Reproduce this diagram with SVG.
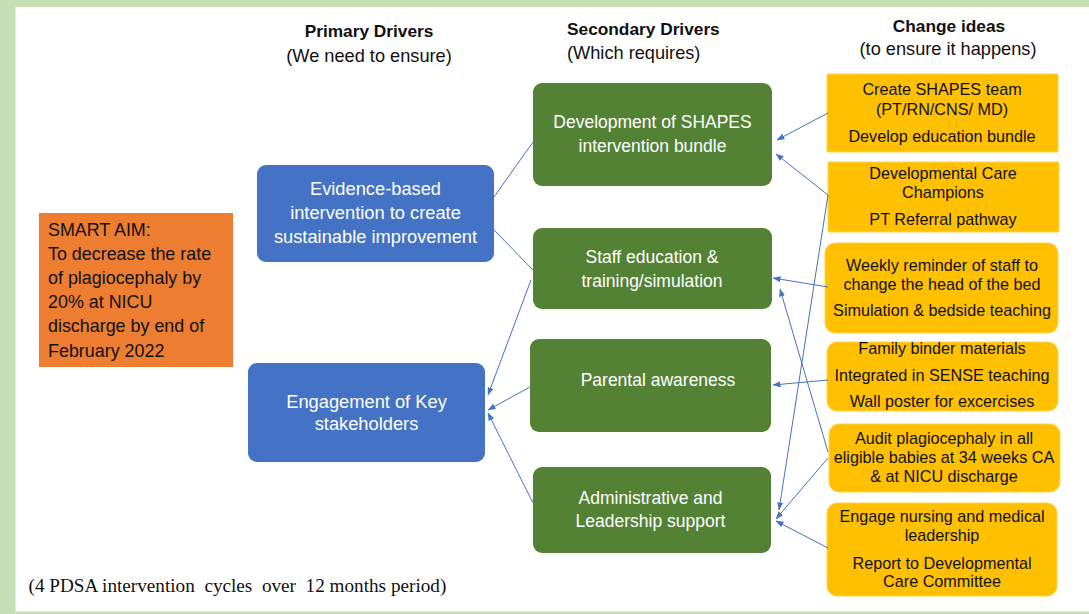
<svg xmlns="http://www.w3.org/2000/svg" width="1089" height="614" viewBox="0 0 1089 614">
<style>
.hdr{font-family:"Liberation Sans",Arial,sans-serif;font-size:17.3px;font-weight:bold;fill:#111}
.sub{font-family:"Liberation Sans",Arial,sans-serif;font-size:18.2px;fill:#111}
.wt{font-family:"Liberation Sans",Arial,sans-serif;fill:#fff;text-anchor:middle}
.bt{font-size:18.3px}
.gt{font-size:17.5px}
.yt{font-family:"Liberation Sans",Arial,sans-serif;font-size:16.2px;fill:#111;text-anchor:middle}
.ot{font-family:"Liberation Sans",Arial,sans-serif;font-size:17.9px;fill:#111}
.blue{fill:#4472C4}
.green{fill:#548235}
.yel{fill:#FFC000;stroke:#FFD24D;stroke-width:1}
.con line{stroke:#4472C4;stroke-width:1}
.arr{marker-end:url(#ah)}
</style>
<defs>
<marker id="ah" markerUnits="userSpaceOnUse" markerWidth="8" markerHeight="7" refX="7.5" refY="3" orient="auto">
<path d="M0,0 L8,3 L0,6 z" fill="#4472C4"/>
</marker>
</defs>
<rect x="0" y="0" width="1089" height="614" fill="#C5E0B4"/>
<rect x="15.5" y="7" width="1073.5" height="604.5" fill="#fff"/>

<g id="headers">
<text class="hdr" x="369" y="37" text-anchor="middle">Primary Drivers</text>
<text class="sub" x="369" y="62" text-anchor="middle">(We need to ensure)</text>
<text class="hdr" x="567" y="35">Secondary Drivers</text>
<text class="sub" x="567" y="59">(Which requires)</text>
<text class="hdr" x="949" y="32" text-anchor="middle">Change ideas</text>
<text class="sub" x="948" y="55" text-anchor="middle">(to ensure it happens)</text>
</g>

<g id="aim">
<rect x="39" y="213" width="194" height="154" fill="#ED7D31"/>
<text class="ot" x="48" y="235.5">SMART AIM:</text>
<text class="ot" x="48" y="259.7">To decrease the rate</text>
<text class="ot" x="48" y="283.9">of plagiocephaly by</text>
<text class="ot" x="48" y="308.1">20% at NICU</text>
<text class="ot" x="48" y="332.3">discharge by end of</text>
<text class="ot" x="48" y="356.5">February 2022</text>
</g>

<g id="p1">
<rect class="blue" x="257" y="165" width="237" height="97" rx="9"/>
<text class="wt bt" x="375.5" y="195">Evidence-based</text>
<text class="wt bt" x="375.5" y="219">intervention to create</text>
<text class="wt bt" x="375.5" y="243">sustainable improvement</text>
</g>
<g id="p2">
<rect class="blue" x="248" y="363" width="237" height="99" rx="9"/>
<text class="wt bt" x="366.5" y="407.5">Engagement of Key</text>
<text class="wt bt" x="366.5" y="429.5">stakeholders</text>
</g>

<g id="s1">
<rect class="green" x="533" y="83" width="239" height="103" rx="9"/>
<text class="wt gt" x="652.5" y="128">Development of SHAPES</text>
<text class="wt gt" x="652.5" y="152">intervention bundle</text>
</g>
<g id="s2">
<rect class="green" x="533" y="228" width="239" height="81" rx="9"/>
<text class="wt gt" x="652" y="263">Staff education &amp;</text>
<text class="wt gt" x="652" y="287">training/simulation</text>
</g>
<g id="s3">
<rect class="green" x="530" y="339" width="241" height="93" rx="9"/>
<text class="wt gt" x="658" y="386">Parental awareness</text>
</g>
<g id="s4">
<rect class="green" x="533" y="467" width="238" height="86" rx="9"/>
<text class="wt gt" x="650.5" y="504">Administrative and</text>
<text class="wt gt" x="650.5" y="527">Leadership support</text>
</g>

<g id="c1">
<rect class="yel" x="827" y="74" width="231" height="78" rx="1"/>
<text class="yt" x="942" y="95">Create SHAPES team</text>
<text class="yt" x="942" y="115">(PT/RN/CNS/ MD)</text>
<text class="yt" x="942" y="141.5">Develop education bundle</text>
</g>
<g id="c2">
<rect class="yel" x="828" y="162" width="231" height="70" rx="1"/>
<text class="yt" x="943" y="179">Developmental Care</text>
<text class="yt" x="943" y="198.3">Champions</text>
<text class="yt" x="943" y="225">PT Referral pathway</text>
</g>
<g id="c3">
<rect class="yel" x="825" y="243" width="233" height="90" rx="10"/>
<text class="yt" x="942" y="270.5">Weekly reminder of staff to</text>
<text class="yt" x="942" y="290">change the head of the bed</text>
<text class="yt" x="942" y="316.3">Simulation &amp; bedside teaching</text>
</g>
<g id="c4">
<rect class="yel" x="827" y="342" width="231" height="69" rx="10"/>
<text class="yt" x="942" y="354">Family binder materials</text>
<text class="yt" x="942" y="380.7">Integrated in SENSE teaching</text>
<text class="yt" x="942" y="407">Wall poster for excercises</text>
</g>
<g id="c5">
<rect class="yel" x="829" y="424" width="231" height="68" rx="10"/>
<text class="yt" x="944" y="444">Audit plagiocephaly in all</text>
<text class="yt" x="944" y="463.3">eligible babies at 34 weeks CA</text>
<text class="yt" x="944" y="482.3">&amp; at NICU discharge</text>
</g>
<g id="c6">
<rect class="yel" x="827" y="503" width="230" height="93" rx="10"/>
<text class="yt" x="942" y="522.3">Engage nursing and medical</text>
<text class="yt" x="942" y="541.3">leadership</text>
<text class="yt" x="942" y="569">Report to Developmental</text>
<text class="yt" x="942" y="587.3">Care Committee</text>
</g>

<g id="connectors" class="con">
<line x1="494" y1="197" x2="533" y2="142"/>
<line x1="494" y1="230" x2="533" y2="270"/>
<line class="arr" x1="531" y1="280" x2="488" y2="395"/>
<line class="arr" x1="530" y1="387" x2="488" y2="410"/>
<line class="arr" x1="533" y1="503" x2="488" y2="413"/>
<line class="arr" x1="828" y1="113" x2="777" y2="140"/>
<line class="arr" x1="828" y1="195" x2="776" y2="154"/>
<line class="arr" x1="828" y1="195" x2="779" y2="510"/>
<line class="arr" x1="828" y1="287" x2="773" y2="278"/>
<line class="arr" x1="828" y1="452" x2="780" y2="289"/>
<line class="arr" x1="828" y1="380" x2="773" y2="385"/>
<line class="arr" x1="828" y1="458" x2="776" y2="519"/>
<line class="arr" x1="828" y1="548" x2="776" y2="521"/>
</g>

<text x="28.5" y="592" xml:space="preserve" style="white-space:pre" font-family="'Liberation Serif','Times New Roman',serif" font-size="19.2" fill="#111">(4 PDSA intervention  cycles  over  12 months period)</text>
</svg>
